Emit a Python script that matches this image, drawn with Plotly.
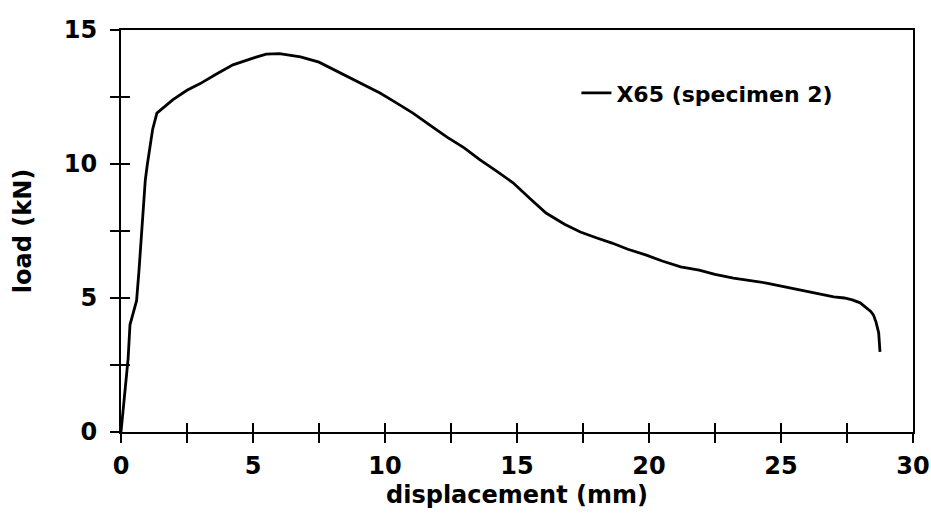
import plotly.graph_objects as go

# Data (displacement in mm, load in kN)
displacement = [0.0, 0.12, 0.27, 0.34, 0.45, 0.59, 0.68, 0.75, 0.84, 0.92, 1.0, 1.1, 1.2,
                1.36, 1.48, 1.7, 1.97, 2.5, 3.0, 3.6, 4.24, 5.0, 5.5, 6.0, 6.8, 7.5, 8.3,
                9.0, 9.81, 10.4, 11.06, 11.7, 12.35, 13.0, 13.6, 14.2, 14.85, 15.5, 16.1,
                16.8, 17.4, 18.0, 18.6, 19.2, 19.9, 20.5, 21.2, 21.9, 22.5, 23.2, 23.8,
                24.5, 25.1, 25.7, 26.3, 27.0, 27.4, 27.7, 28.0, 28.2, 28.4, 28.5, 28.6,
                28.7, 28.75]
load = [0.0, 1.2, 2.75, 4.0, 4.4, 4.9, 6.0, 7.0, 8.66, 9.4, 10.0, 10.7, 11.3,
        11.9, 12.0, 12.2, 12.4, 12.75, 13.0, 13.35, 13.7, 13.95, 14.1, 14.12, 14.0, 13.8, 13.4,
        13.05, 12.65, 12.3, 11.9, 11.45, 11.0, 10.6, 10.15, 9.75, 9.3, 8.7, 8.17,
        7.75, 7.46, 7.25, 7.05, 6.82, 6.6, 6.38, 6.16, 6.04, 5.88, 5.74, 5.65,
        5.55, 5.42, 5.30, 5.18, 5.04, 5.0, 4.93, 4.82, 4.67, 4.5, 4.37, 4.1,
        3.7, 2.99]
series_name = "X65 (specimen 2)"

x_ticks = [0, 2.5, 5, 7.5, 10, 12.5, 15, 17.5, 20, 22.5, 25, 27.5, 30]
x_ticktext = ["0", "", "5", "", "10", "", "15", "", "20", "", "25", "", "30"]
y_ticks = [0, 2.5, 5, 7.5, 10, 12.5, 15]
y_ticktext = ["0", "", "5", "", "10", "", "15"]

tick_font = dict(family="DejaVu Sans", size=24, color="black", weight="bold")

fig = go.Figure()
fig.add_trace(go.Scatter(
    x=displacement, y=load, mode="lines", name=series_name,
    line=dict(color="black", width=2.8),
))
# invisible copy on overlay axes, used only to draw the inner half of the crossing ticks
fig.add_trace(go.Scatter(x=displacement, y=load, xaxis="x2", yaxis="y2", mode="lines",
                         line=dict(color="rgba(0,0,0,0)", width=0),
                         showlegend=False, hoverinfo="skip"))

fig.update_layout(
    width=931, height=530,
    margin=dict(l=121, r=18, t=30, b=98),
    paper_bgcolor="white", plot_bgcolor="white",
    showlegend=True,
    legend=dict(x=0.575, y=0.843, xanchor="left", yanchor="middle",
                font=dict(family="DejaVu Sans", size=22, color="black", weight="bold"),
                bgcolor="rgba(0,0,0,0)", itemwidth=30),
    xaxis=dict(range=[0, 30], tickmode="array", tickvals=x_ticks, ticktext=x_ticktext,
               ticks="outside", ticklen=9, tickwidth=2, tickcolor="black",
               showline=True, linecolor="black", linewidth=2, mirror=True,
               showgrid=False, zeroline=False, tickfont=tick_font, automargin=False,
               ticklabelstandoff=2,
               title=dict(text="displacement (mm)", font=tick_font, standoff=7)),
    yaxis=dict(range=[0, 15], tickmode="array", tickvals=y_ticks, ticktext=y_ticktext,
               ticks="outside", ticklen=9, tickwidth=2, tickcolor="black",
               showline=True, linecolor="black", linewidth=2, mirror=True,
               showgrid=False, zeroline=False, tickfont=tick_font, automargin=False,
               ticklabelstandoff=8,
               title=dict(text="load (kN)", font=tick_font, standoff=25)),
    xaxis2=dict(overlaying="x", anchor="y2", side="bottom", range=[0, 30],
                tickmode="array", tickvals=x_ticks,
                ticks="inside", ticklen=9, tickwidth=2, tickcolor="black",
                showticklabels=False, showline=False, showgrid=False, zeroline=False,
                automargin=False),
    yaxis2=dict(overlaying="y", anchor="x2", side="left", range=[0, 15],
                tickmode="array", tickvals=y_ticks,
                ticks="inside", ticklen=9, tickwidth=2, tickcolor="black",
                showticklabels=False, showline=False, showgrid=False, zeroline=False,
                automargin=False),
)

fig.write_html("out.html")
